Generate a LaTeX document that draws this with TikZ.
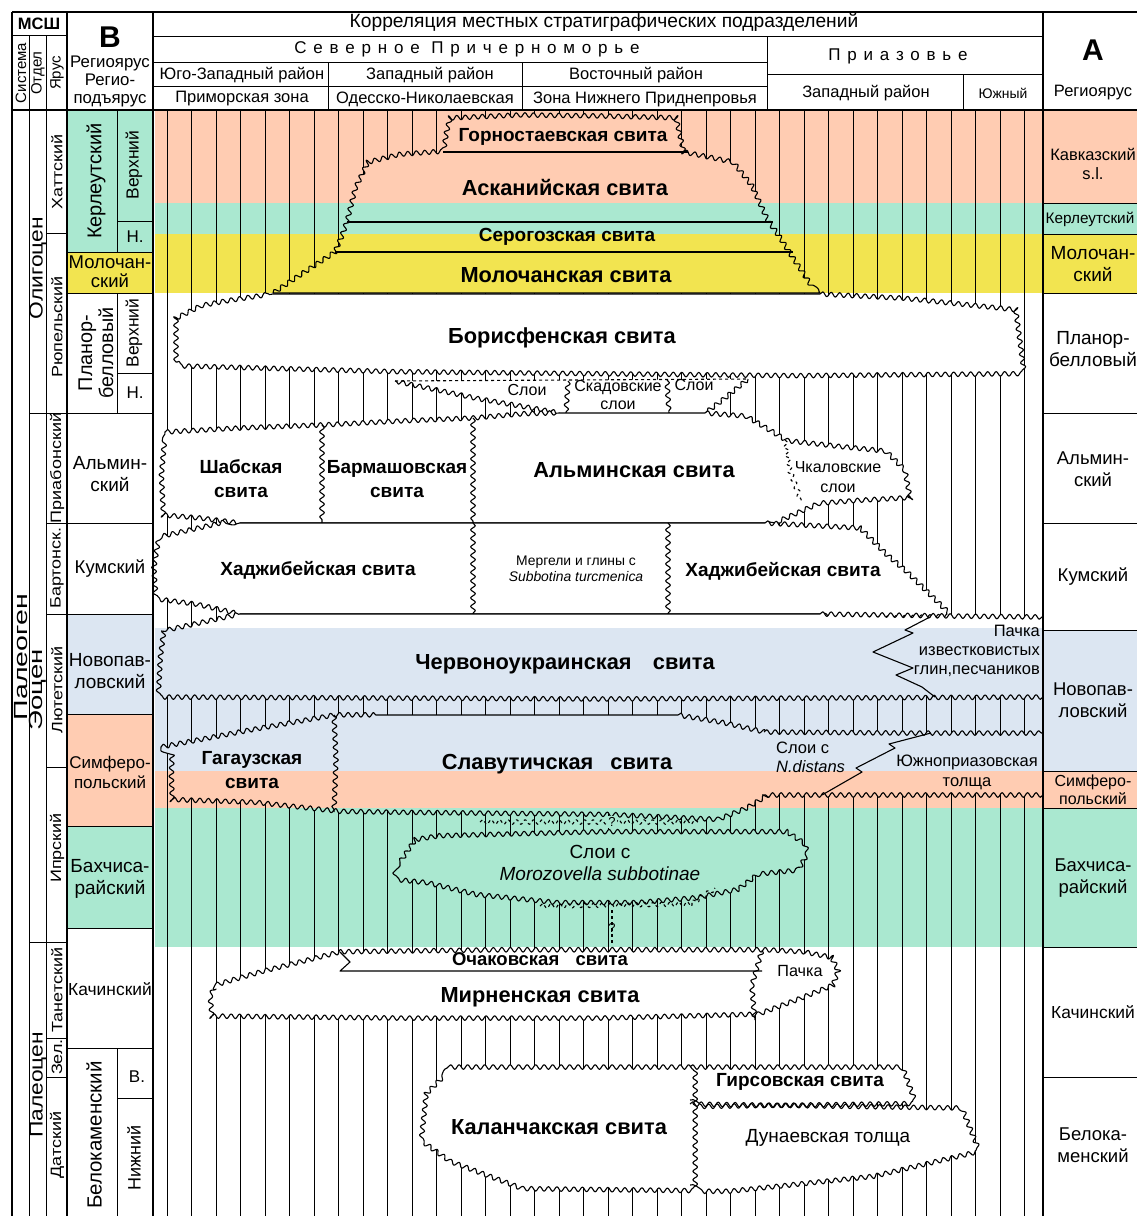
\documentclass[tikz,border=0pt]{standalone}
\usepackage{fontspec}
\setmainfont{Liberation Sans}
\usetikzlibrary{decorations.pathmorphing}
\definecolor{salm}{RGB}{255,204,178}
\definecolor{mint}{RGB}{170,232,208}
\definecolor{yel}{RGB}{242,228,80}
\definecolor{blu}{RGB}{220,230,242}
\newcommand\fsz[2]{\fontsize{#1}{#2}\selectfont}
\newcommand\mainbands{%
 \fill[salm] (155,110) rectangle (1043,203);
 \fill[mint] (155,203) rectangle (1043,234);
 \fill[yel] (155,234) rectangle (1043,293);
 \fill[white] (155,293) rectangle (1043,628);
 \fill[blu] (155,628) rectangle (1043,771);
 \fill[salm] (155,771) rectangle (1043,808);
 \fill[mint] (155,808) rectangle (1043,947);
 \fill[white] (155,947) rectangle (1043,1216);}
\newcommand\fillfm[1]{\begin{scope}\clip #1;\mainbands\end{scope}}
\newcommand\formation[1]{\begin{scope}\clip #1;\mainbands\end{scope}\draw[fline] #1;}
\tikzset{
 wv/.style={decoration={snake,segment length=8.5pt,amplitude=2.3pt}},
 fline/.style={line width=1.1pt,line join=round},
 hl/.style={line width=0.8pt},
 gl/.style={line width=0.9pt},
 tk/.style={line width=2.6pt},
 tx/.style={inner sep=0pt,align=center,font=\fsz{16.5}{19}},
 bx/.style={inner sep=0pt,align=center,font=\bfseries\fsz{19}{24}},
 bbx/.style={inner sep=0pt,align=center,font=\bfseries\fsz{21.8}{24}},
 sp/.style={font=\addfontfeature{LetterSpace=40}\fsz{17}{20}},
 rl/.style={inner sep=0pt,align=center,font=\fsz{19}{22}},
 yr/.style={inner sep=0pt,rotate=90,font=\addfontfeature{FakeStretch=1.2}\fsz{15}{16}}
}
\begin{document}
\begin{tikzpicture}[x=1pt,y=-1pt]
\useasboundingbox (0,0) rectangle (1137,1216);
\fill[white] (0,0) rectangle (1137,1216);
% bands
\mainbands
\fill[mint] (67,110) rectangle (153,252);
\fill[yel] (67,252) rectangle (153,293);
\fill[blu] (67,614) rectangle (153,714);
\fill[salm] (67,714) rectangle (153,826);
\fill[mint] (67,826) rectangle (153,928);
\fill[salm] (1043,110) rectangle (1137,203);
\fill[mint] (1043,203) rectangle (1137,234);
\fill[yel] (1043,234) rectangle (1137,293);
\fill[blu] (1043,630) rectangle (1137,771);
\fill[salm] (1043,771) rectangle (1137,808);
\fill[mint] (1043,808) rectangle (1137,947);
% hatching
\foreach \k in {0,...,35}{\draw[hl] ({167+24.51*\k},110) -- ({167+24.51*\k},1216);}
% pyramid
\formation{(273,293) decorate[wv]{--(300,275)--(335,252)--(342,236)--(347,222)--(355,190)--(368,163)--(400,155)--(443,152)--(446,132)--(450,116)--(520,113)--(600,114)--(680,116)--(684,134)--(688,152)--(737,162)--(757,187)--(773,222)--(783,236)--(793,252)--(805,270)--(820,293)} -- cycle}
\draw[fline] (443,152)--(688,152) (347,222)--(773,222) (335,252)--(793,252);
% Borisfen
\formation{(176,362) decorate[wv]{--(176,318)--(200,306)--(227,301)--(273,294)} -- (820,294) decorate[wv]{--(900,298)--(1017,310)--(1021,340)--(1025,370)--(800,372)--(600,370)--(400,368)--(176,362)} -- cycle}
% Skadovskie
\fillfm{(395,381) -- (748,379) decorate[wv]{--(725,398)--(705,413)} -- (560,413) decorate[wv]{--(480,399)--(395,381)} -- cycle}
\draw[fline,dashed] (395,381)--(748,379);
\draw[fline] (748,379) decorate[wv]{--(725,398)--(705,413)};
\draw[fline] (560,413) decorate[wv]{--(480,399)--(395,381)};
\draw[fline] (568,381) decorate[wv]{--(566,413)};
\draw[fline] (667,380) decorate[wv]{--(669,413)};
% Alma row
\formation{(165,432) decorate[wv]{--(240,428)--(322,425)--(400,421)--(473,418)--(520,414)--(560,413)} -- (705,413) decorate[wv]{--(745,416)--(785,440)--(840,446)--(880,450)--(900,470)--(905,497)--(850,500)--(810,503)--(765,523)} -- (240,523) decorate[wv]{--(200,518)--(163,515)--(161,475)--(165,432)} -- cycle}
\draw[fline] (322,425) decorate[wv]{--(322,523)};
\draw[fline] (473,418) decorate[wv]{--(473,523)};
\draw[fline,dashed] (785,440) decorate[wv]{--(790,470)--(802,502)};
% Khadzhibey row
\formation{(240,523) -- (765,523) decorate[wv]{--(860,528)--(885,553)--(905,570)--(948,612)--(880,614)--(820,614)} -- (240,614) decorate[wv]{--(200,605)--(162,600)--(160,570)--(165,540)--(240,523)} -- cycle}
\draw[fline] (473,523) decorate[wv]{--(473,614)};
\draw[fline] (668,523) decorate[wv]{--(668,614)};
% Chervonoukr
\formation{(167,630) decorate[wv]{--(240,614)} -- (820,614) decorate[wv]{--(950,616)--(1043,617)} -- (1043,697) decorate[wv]{--(600,699)--(161,697)--(163,660)--(167,630)} -- cycle}
\draw[fline] (930,617)--(905,630)--(913,633)--(873,652)--(913,668)--(896,675)--(922,687)--(935,697);
% Gagauz + Slavutich
\formation{(161,747) decorate[wv]{--(250,730)--(334,715)--(380,715)} -- (678,715) decorate[wv]{--(720,722)--(764,732)--(768,765)--(762,795)--(740,808)--(710,820)--(600,815)--(500,814)--(400,813)--(334,812)--(250,803)--(161,800)--(160,775)--(161,747)} -- cycle}
\draw[fline] (334,715) decorate[wv]{--(336,760)--(334,812)};
% N.distans + Yuzhnopriazov
\fillfm{(764,732) decorate[wv]{--(900,733)--(1043,733)} -- (1043,795) decorate[wv]{--(900,795)--(762,795)} -- (768,765) -- cycle}
\draw[fline] (764,732) decorate[wv]{--(900,733)--(1043,733)};
\draw[fline] (1043,795) decorate[wv]{--(900,795)--(762,795)};
\draw[fline] (822,795)--(862,772)--(856,768)--(895,748)--(889,744)--(931,733);
% Morozovella
\formation{(400,862) decorate[wv]{--(415,840)--(440,836)--(600,832)--(790,832)--(805,842)--(808,852)--(800,866)--(760,870)--(740,885)--(700,893)--(640,898)--(560,898)--(480,890)--(430,878)--(400,875)--(400,862)} -- cycle}
\draw[fline,dashed] (480,822) decorate[wv]{--(700,822)};
\draw[fline,dashed] (540,906) decorate[wv]{--(690,904)--(715,888)};
\draw[fline,dashed] (612,910)--(612,945);
% Mirnen + Ochakov + Pachka
\formation{(215,985) decorate[wv]{--(260,972)--(300,962)--(340,952)--(500,950)--(762,950)--(800,952)--(830,958)--(838,975)--(832,992)--(800,1005)--(760,1020)--(600,1024)--(400,1024)--(210,1022)--(208,1000)--(215,985)} -- cycle}
\draw[fline] (340,952)--(350,962)--(340,971)--(762,971);
\draw[fline] (762,950) decorate[wv]{--(752,985)--(755,1020)};
% Girsov, Dunaev, Kalanchak
\fillfm{(690,1067) decorate[wv]{--(899,1067)--(910,1097)--(690,1100)} -- cycle}
\fillfm{(690,1104) decorate[wv]{--(959,1108)--(974,1145)--(868,1170)--(724,1185)--(690,1185)} -- cycle}
\formation{(448,1067) decorate[wv]{--(690,1067)--(690,1185)--(600,1184)--(517,1183)--(448,1157)--(420,1137)--(425,1090)--(448,1067)} -- cycle}
\draw[fline] (690,1067) decorate[wv]{--(899,1067)--(910,1097)--(690,1100)};
\draw[fline] (690,1104) decorate[wv]{--(959,1108)--(974,1145)--(868,1170)--(724,1185)--(690,1185)};
% formation labels
\node[bx] (gorn) at (563,137) {Горностаевская свита};
\node[bbx] (askan) at (565,187) {Асканийская свита};
\node[bx] (serog) at (567,237) {Серогозская свита};
\node[bbx] (moloch) at (566,275) {Молочанская свита};
\node[bbx] (boris) at (562,338) {Борисфенская свита};
\node[tx,font=\fsz{16}{18}] (sloi1) at (527,390) {Слои};
\node[tx,font=\fsz{16}{18}] (skad) at (618,395) {Скадовские\\слои};
\node[tx,font=\fsz{16}{18}] (sloi2) at (694,385) {Слои};
\node[bx] (shab) at (241,479) {Шабская\\свита};
\node[bx] (barm) at (397,479) {Бармашовская\\свита};
\node[bbx] (alma) at (634,470) {Альминская свита};
\node[tx,font=\fsz{16}{20}] (chkal) at (838,477) {Чкаловские\\слои};
\node[bx] (khad1) at (318,570) {Хаджибейская свита};
\node[tx,font=\fsz{13.9}{16}] (merg) at (576,569) {Мергели и глины с\\\textit{Subbotina turcmenica}};
\node[bx] (khad2) at (783,571) {Хаджибейская свита};
\node[bbx] (cherv) at (565,664) {Червоноукраинская\hspace{0.7em} свита};
\node[tx,font=\fsz{16.5}{19},anchor=north east,align=right] (pachka1) at (1040,625) {Пачка\\известковистых\\глин,песчаников};
\node[bx] (gag) at (252,770) {Гагаузская\\свита};
\node[bbx] (slav) at (557,764) {Славутичская\hspace{0.5em} свита};
\node[tx,font=\fsz{16.5}{19},anchor=west,align=left] (ndist) at (776,757) {Слои с\\\textit{N.distans}};
\node[tx,font=\fsz{16.5}{20}] (yuzh) at (967,772) {Южноприазовская\\толща};
\node[tx,font=\fsz{19}{22}] (moroz) at (600,863) {Слои с\\\textit{Morozovella subbotinae}};
\node[tx,font=\fsz{13}{13},fill=mint,inner sep=1pt] (q1) at (612,822) {?};
\node[tx,font=\fsz{13}{13}] (q2) at (612,928) {?};
\node[bx,font=\bfseries\fsz{18.5}{20}] (ochak) at (540,959) {Очаковская\hspace{0.6em} свита};
\node[bbx] (mirn) at (540,997) {Мирненская свита};
\node[tx,font=\fsz{16.2}{18}] (pachka2) at (800,971) {Пачка};
\node[bx,font=\bfseries\fsz{19}{20}] (girs) at (800,1082) {Гирсовская свита};
\node[bbx] (kalan) at (559,1127) {Каланчакская свита};
\node[tx,font=\fsz{19}{20}] (dunaev) at (828,1138) {Дунаевская толща};
% header texts
\node[tx,font=\fsz{19.2}{21}] (title) at (604,22) {Корреляция местных стратиграфических подразделений};
\node[tx,sp] (sevprich) at (467,49) {Северное Причерноморье};
\node[tx,sp] (priaz) at (898,56) {Приазовье};
\node[tx] (h1) at (242,75) {Юго-Западный район};
\node[tx] (h2) at (430,75) {Западный район};
\node[tx] (h3) at (636,75) {Восточный район};
\node[tx] (h4) at (242,99) {Приморская зона};
\node[tx] (h5) at (425,99) {Одесско-Николаевская};
\node[tx] (h6) at (645,99) {Зона Нижнего Приднепровья};
\node[tx] (h7) at (866,93) {Западный район};
\node[tx,font=\fsz{13.9}{15}] (h8) at (1003,93) {Южный};
\node[tx,font=\bfseries\fsz{30}{30}] (A) at (1093,50) {A};
\node[tx] (regA) at (1093,93) {Региоярус};
% left column texts
\node[tx,font=\bfseries\fsz{16.5}{17}] (msh) at (39,24) {МСШ};
\node[tx,rotate=90,font=\fsz{15}{16}] (sis) at (21,73) {Система};
\node[tx,rotate=90,font=\fsz{15}{16}] (otd) at (38,73) {Отдел};
\node[tx,rotate=90,font=\fsz{15}{16}] (yar) at (57,73) {Ярус};
\node[tx,font=\bfseries\fsz{30}{30}] (B) at (110,37) {B};
\node[tx,font=\fsz{16.8}{18}] (regB) at (110,81) {Региоярус\\Регио-\\подъярус};
\node[tx,rotate=90,font=\addfontfeature{FakeStretch=1.5}\fsz{19}{20}] (paleogen) at (21,657) {Палеоген};
\node[tx,rotate=90,font=\addfontfeature{FakeStretch=1.2}\fsz{19}{20}] (olig) at (38,268) {Олигоцен};
\node[tx,rotate=90,font=\addfontfeature{FakeStretch=1.45}\fsz{19}{20}] (eoc) at (38,690) {Эоцен};
\node[tx,rotate=90,font=\addfontfeature{FakeStretch=1.2}\fsz{19}{20}] (paleoc) at (38,1085) {Палеоцен};
\node[yr] (y1) at (57,172) {Хаттский};
\node[yr] (y2) at (57,327) {Рюпельский};
\node[yr] (y3) at (57,468) {Приабонский};
\node[yr] (y4) at (57,568) {Бартонск.};
\node[yr] (y5) at (57,690) {Лютетский};
\node[yr] (y6) at (57,848) {Ипрский};
\node[yr] (y7) at (57,990) {Танетский};
\node[yr] (y8) at (57,1057) {Зел.};
\node[yr] (y9) at (57,1145) {Датский};
\node[tx,rotate=90,font=\fsz{20}{22}] (b1) at (96,181) {Керлеутский};
\node[tx,rotate=90,font=\fsz{17.5}{19}] (b1a) at (134,165) {Верхний};
\node[tx,font=\fsz{17}{19}] (b1b) at (135,237) {Н.};
\node[rl,font=\fsz{18.5}{19}] (b2) at (110,272) {Молочан-\\ский};
\node[tx,rotate=90,font=\fsz{19.8}{21}] (b3) at (96,353) {Планор-\\белловый};
\node[tx,rotate=90,font=\fsz{17.5}{19}] (b3a) at (134,333) {Верхний};
\node[tx,font=\fsz{17}{19}] (b3b) at (135,393) {Н.};
\node[rl] (b4) at (110,474) {Альмин-\\ский};
\node[rl,font=\fsz{18.5}{22}] (b5) at (110,569) {Кумский};
\node[rl] (b6) at (110,671) {Новопав-\\ловский};
\node[rl,font=\fsz{17}{20}] (b7) at (110,772) {Симферо-\\польский};
\node[rl] (b8) at (110,879) {Бахчиса-\\райский};
\node[rl,font=\fsz{17.4}{20}] (b9) at (110,989) {Качинский};
\node[tx,rotate=90,font=\fsz{20.5}{22}] (b10) at (94,1135) {Белокаменский};
\node[tx,font=\fsz{17}{19}] (b10a) at (137,1077) {В.};
\node[tx,rotate=90,font=\fsz{18}{19}] (b10b) at (134,1158) {Нижний};
% right column texts
\node[tx,font=\fsz{16.5}{18.5}] (a1) at (1093,164) {Кавказский\\s.l.};
\node[tx,font=\fsz{15.3}{17}] (a2) at (1090,219) {Керлеутский};
\node[rl] (a3) at (1093,264) {Молочан-\\ский};
\node[rl] (a4) at (1093,349) {Планор-\\белловый};
\node[rl,font=\fsz{18.5}{22}] (a5) at (1093,469) {Альмин-\\ский};
\node[rl,font=\fsz{18.5}{22}] (a6) at (1093,577) {Кумский};
\node[rl,font=\fsz{18.5}{22}] (a7) at (1093,700) {Новопав-\\ловский};
\node[tx,font=\fsz{16}{18}] (a8) at (1093,790) {Симферо-\\польский};
\node[rl,font=\fsz{18.5}{22}] (a9) at (1093,878) {Бахчиса-\\райский};
\node[rl,font=\fsz{17.4}{20}] (a10) at (1093,1012) {Качинский};
\node[rl,font=\fsz{18.5}{22}] (a11) at (1093,1145) {Белока-\\менский};
% grid lines
\draw[gl] (12,35)--(67,35) (29,35)--(29,1216) (46,35)--(46,1216);
\draw[gl] (153,36)--(1043,36) (153,62)--(767,62) (153,86)--(767,86) (767,74)--(1043,74);
\draw[gl] (767,36)--(767,110) (328,62)--(328,110) (522,62)--(522,110) (963,74)--(963,110);
\foreach \yy in {233,523,614,767,1038,1077}{\draw[gl] (46,\yy)--(67,\yy);}
\foreach \yy in {413,942}{\draw[gl] (29,\yy)--(67,\yy);}
\foreach \yy in {252,293,413,523,614,714,826,928,1048}{\draw[gl] (67,\yy)--(153,\yy);}
\foreach \yy in {221,373,1098}{\draw[gl] (117,\yy)--(153,\yy);}
\draw[gl] (117,110)--(117,252) (117,293)--(117,413) (117,1048)--(117,1216);
\foreach \yy in {203,234,293,413,523,630,771,808,947,1077}{\draw[gl] (1043,\yy)--(1137,\yy);}
% thick frame
\draw[tk] (12,12)--(1137,12) (12,110)--(1137,110);
\draw[tk] (12,12)--(12,1216) (67,12)--(67,1216) (153,12)--(153,1216) (1043,12)--(1043,1216);
\end{tikzpicture}
\end{document}
